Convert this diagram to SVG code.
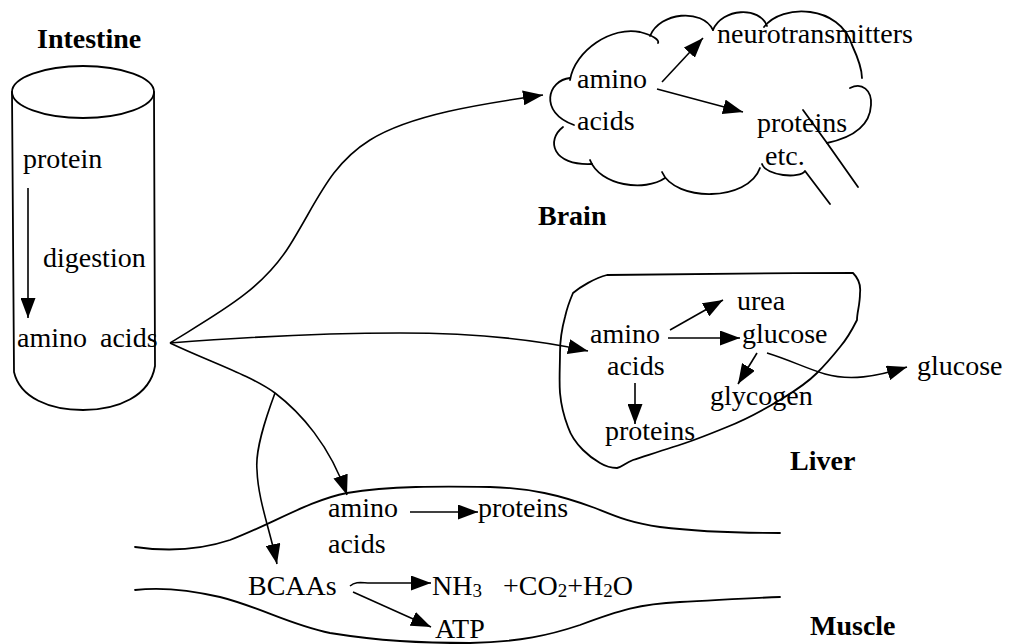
<svg xmlns="http://www.w3.org/2000/svg" width="1010" height="644" viewBox="0 0 1010 644">
<style>
.t{font-family:"Liberation Serif","Times New Roman",serif;font-size:28px;fill:#000}
.b{font-family:"Liberation Serif","Times New Roman",serif;font-size:28px;font-weight:bold;fill:#000}
.s{fill:none;stroke:#000;stroke-width:1.8;stroke-linecap:round;stroke-linejoin:round}
.a{fill:none;stroke:#000;stroke-width:1.6;marker-end:url(#ah)}
</style>
<defs>
<marker id="ah" markerUnits="userSpaceOnUse" markerWidth="21" markerHeight="15" refX="20" refY="7.5" orient="auto">
<path d="M0,0 L20,7.5 L0,15 Z" fill="#000"/>
</marker>
</defs>
<rect width="1010" height="644" fill="#fff"/>

<g id="intestine">
<text class="b" x="37" y="48">Intestine</text>
<ellipse class="s" cx="83" cy="92" rx="71" ry="26"/>
<path class="s" d="M12,92 L14,372 C20,398 50,410 83,410 C118,410 150,396 155,366 L154,92"/>
<text class="t" x="23" y="168">protein</text>
<text class="t" x="43" y="267">digestion</text>
<text class="t" x="17" y="347">amino</text>
<text class="t" x="100" y="347">acids</text>
<path class="a" d="M28,188 L28,318"/>
</g>

<g id="brain">
<path class="s" d="M570,78 C548,80 538,112 574,125"/>
<path class="s" d="M563,127 C546,140 552,166 592,164"/>
<path class="s" d="M590,160 C600,186 645,192 665,178"/>
<path class="s" d="M662,172 C675,202 748,202 760,168"/>
<path class="s" d="M762,164 C766,176 800,179 805,171 L830,204"/>
<path class="s" d="M570,80 C575,50 612,26 640,32 C652,35 660,40 658,43"/>
<path class="s" d="M650,36 C660,12 702,8 713,30"/>
<path class="s" d="M713,30 C722,8 760,6 767,26"/>
<path class="s" d="M764,27 C782,3 840,5 852,45 C858,58 862,68 862,78"/>
<path class="s" d="M850,88 C862,82 872,90 871,105 C870,125 855,137 827,143 L858,187"/>
<path class="s" d="M803,110 L827,143"/>
<text class="t" x="717" y="43">neurotransmitters</text>
<text class="t" x="577" y="88">amino</text>
<text class="t" x="577" y="130">acids</text>
<text class="t" x="757" y="132">proteins</text>
<text class="t" x="765" y="165">etc.</text>
<text class="b" x="538" y="225">Brain</text>
<path class="a" d="M662,82 L703,38"/>
<path class="a" d="M657,89 L743,112"/>
</g>

<g id="liver">
<path class="s" d="M573,293 C580,287 595,278 607,275 C650,274 760,273 853,273 C858,278 861,285 860,293 C860,305 857,312 857,320 C852,330 846,340 840,347 C832,357 825,365 817,373 C805,385 793,392 780,400 C760,412 745,420 727,427 C710,434 690,442 673,447 C655,453 645,456 633,460 C625,463 622,467 617,468 C610,468 605,466 600,463 C593,459 588,455 583,450 C576,443 571,436 568,427 C563,414 561,404 560,393 C559,380 560,366 560,353 C560,340 562,328 565,317 C567,308 570,300 573,293 Z"/>
<text class="t" x="737" y="310">urea</text>
<text class="t" x="590" y="343">amino</text>
<text class="t" x="742" y="343">glucose</text>
<text class="t" x="607" y="375">acids</text>
<text class="t" x="710" y="405">glycogen</text>
<text class="t" x="605" y="440">proteins</text>
<text class="t" x="917" y="375">glucose</text>
<text class="b" x="790" y="470">Liver</text>
<path class="a" d="M670,330 L723,300"/>
<path class="a" d="M668,338 L740,338"/>
<path class="a" d="M757,353 L738,384"/>
<path class="a" d="M635,383 L635,424"/>
<path class="a" d="M767,353 C790,360 805,368 825,374 C850,381 875,377 907,367"/>
</g>

<g id="muscle">
<path class="s" d="M135,547 C170,552 200,550 230,540 C270,525 310,500 347,493 C390,486 440,486 490,487 C530,488 560,495 595,508 C615,516 630,523 660,527 C700,532 740,533 780,533"/>
<path class="s" d="M135,590 C160,587 190,590 220,597 C260,607 290,625 330,633 C380,641 420,643 470,643 C520,642 550,635 580,625 C620,610 640,604 680,602 C720,600 750,598 780,597"/>
<text class="t" x="328" y="517">amino</text>
<text class="t" x="328" y="553">acids</text>
<text class="t" x="478" y="517">proteins</text>
<text class="t" x="248" y="595">BCAAs</text>
<text class="t" x="432" y="595">NH<tspan font-size="19" dy="2">3</tspan></text>
<text class="t" x="503" y="595">+CO<tspan font-size="19" dy="2">2</tspan><tspan dy="-2">+H</tspan><tspan font-size="19" dy="2">2</tspan><tspan dy="-2">O</tspan></text>
<text class="t" x="435" y="638">ATP</text>
<text class="b" x="810" y="635">Muscle</text>
<path class="a" d="M410,512 L478,512"/>
<path class="a" d="M350,586 C356,581 362,583 370,583 L431,583"/>
<path class="a" d="M353,592 L431,627"/>
</g>

<g id="connectors">
<path class="a" d="M170,343 C220,312 262,290 290,245 C318,200 330,165 370,140 C410,115 480,104 543,95"/>
<path class="a" d="M170,343 C260,336 330,333 400,333 C470,333 530,338 588,351"/>
<path class="a" d="M170,343 C210,362 250,375 275,393 C300,412 330,445 347,495"/>
<path class="a" d="M275,393 C265,420 255,450 257,470 C258,500 270,530 277,564"/>
</g>
</svg>
